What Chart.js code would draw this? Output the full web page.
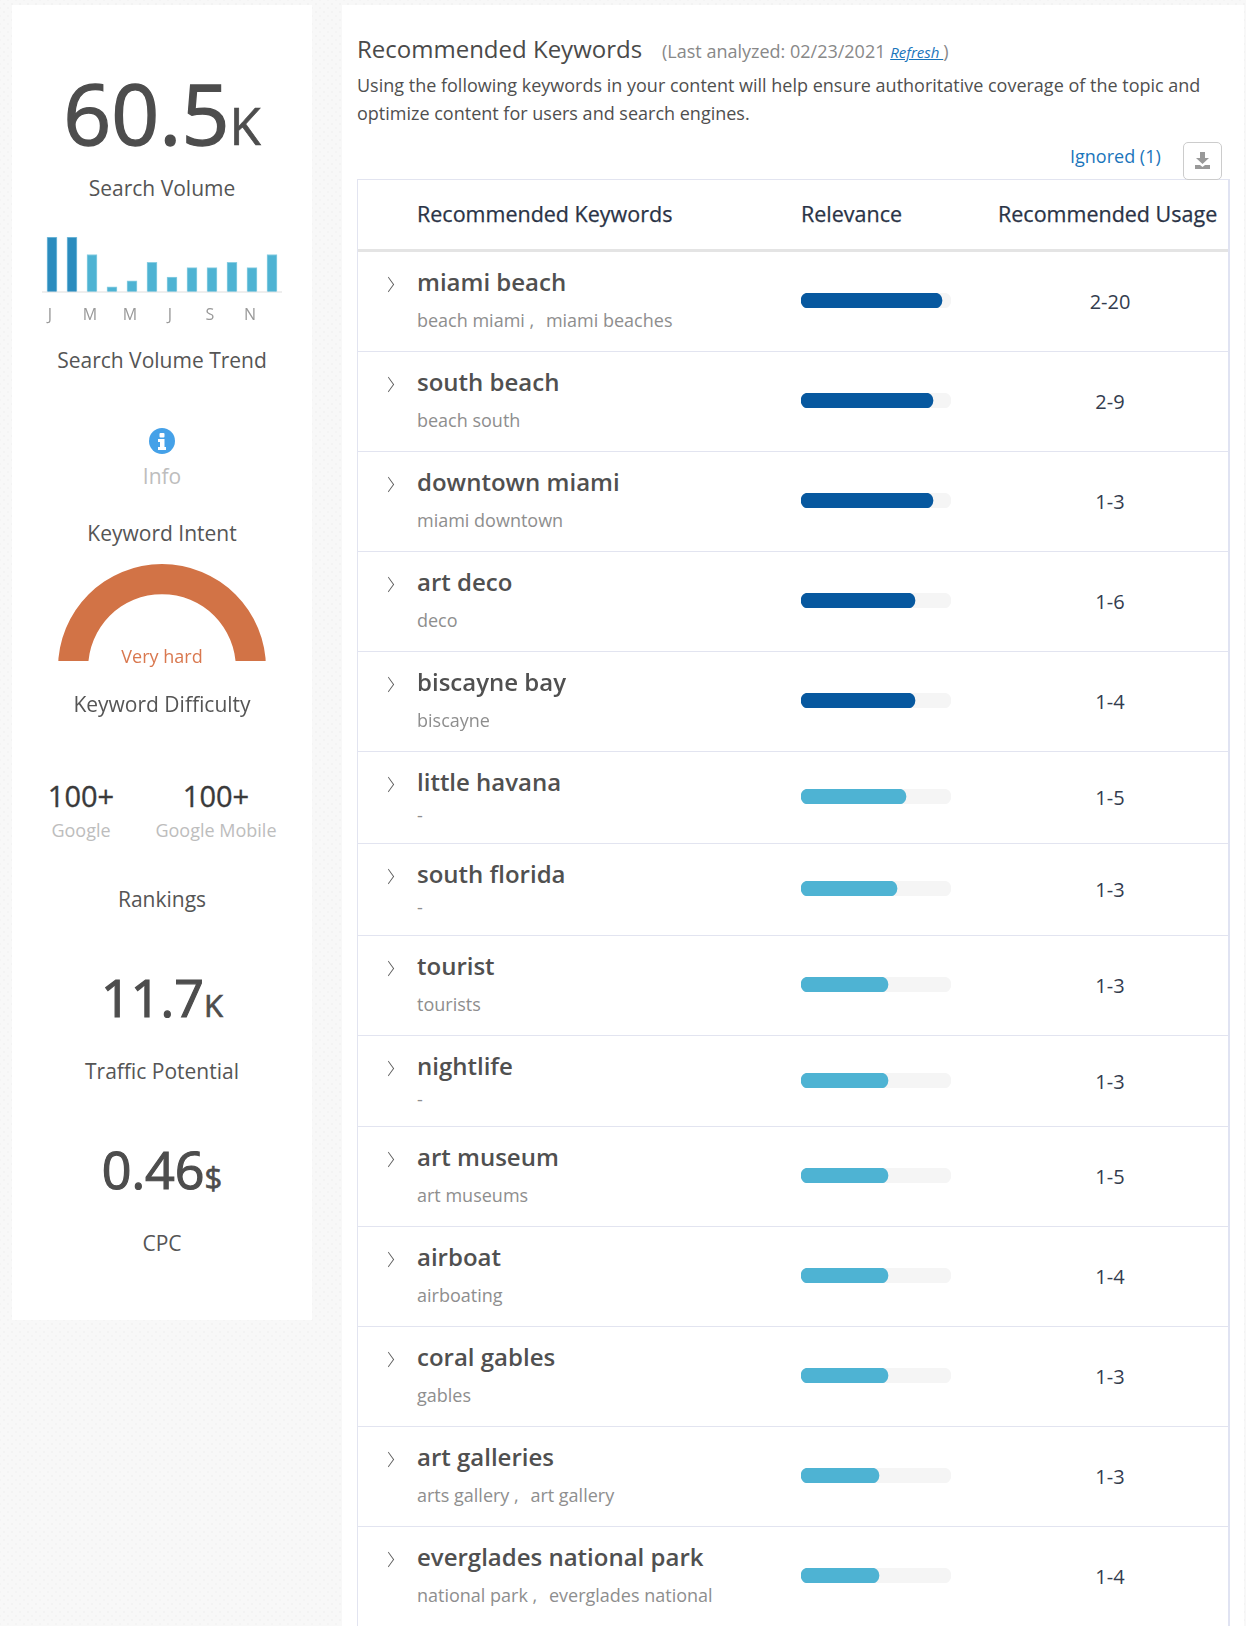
<!DOCTYPE html>
<html>
<head>
<meta charset="utf-8">
<title>Recommended Keywords</title>
<script src="https://cdn.jsdelivr.net/npm/chart.js@4/dist/chart.umd.min.js"></script>
<style>
  html, body { margin: 0; padding: 0; }
  body {
    width: 1246px; height: 1626px; overflow: hidden; position: relative;
    background-color: #f8f8f8;
    background-image: radial-gradient(#f3f3f3 1px, transparent 1.5px), radial-gradient(#f4f4f4 1px, transparent 1.5px);
    background-size: 8px 8px;
    background-position: 0 0, 4px 4px;
    font-family: "Open Sans", sans-serif; color: #4a4a4a;
  }
  .panel { position: absolute; background: #fff; }
  #side { left: 12px; top: 5px; width: 300px; height: 1315px; }
  #main { left: 342px; top: 5px; width: 902px; height: 1630px; }
  .abs { position: absolute; white-space: nowrap; line-height: 1; }
  .mid { left: 12px; width: 300px; text-align: center; }
  .cap { font-size: 21px; color: #555; }
  .big { color: #4d4d4d; -webkit-text-stroke: 1.4px #4d4d4d; }
  .big.small { -webkit-text-stroke: 1.2px #4d4d4d; }
  .big span { -webkit-text-stroke: .7px #4d4d4d; }
  .num { font-size: 29px; color: #3a3a3a; -webkit-text-stroke: .35px #3a3a3a; text-align: center; }
  .engine { font-size: 18px; color: #bdbdbd; text-align: center; }
  canvas { display: block; }

  #table {
    position: absolute; left: 357px; top: 179px; width: 870px; height: 1500px;
    border: 1px solid #e2e4f0; border-right: 2px solid #e0e3f2; border-bottom: 0; background: #fff;
  }
  #thead { height: 69px; border-bottom: 3px solid #e4e4e4; position: relative; }
  #thead span { position: absolute; top: 21px; font-size: 21.5px; color: #2a3346; -webkit-text-stroke: .25px #2a3346; line-height: 1.2; white-space: nowrap; }
  .row { position: relative; box-sizing: border-box; height: 100px; border-bottom: 1px solid #e2e4f0; }
  .row.short { height: 92px; }
  .row:nth-child(9) { height: 91px; }
  .chev { position: absolute; left: 25px; top: 27px; width: 10px; height: 10px; border-top: 1px solid #555; border-right: 1px solid #555; transform: scaleX(.72) rotate(45deg); }
  .kw { position: absolute; left: 59px; top: 13px; font-size: 24px; font-weight: 600; color: #505050; line-height: 1.4; white-space: nowrap; }
  .syn { position: absolute; left: 59px; top: 56px; font-size: 18px; color: #8e8e8e; line-height: 1.4; white-space: nowrap; }
  .syn i { display: inline-block; width: 7px; }
  .row.short .syn { top: 51px; }
  .bar { position: absolute; left: 443px; top: 41px; width: 150px; height: 15px; }
  .row.short .bar { top: 37px; }
  .use { position: absolute; left: 641px; width: 222px; top: 36px; text-align: center; font-size: 20px; color: #333c4e; line-height: 1.4; }
  .row.short .use { top: 32px; }
</style>
</head>
<body>
<div class="panel" id="side"></div>
<div class="panel" id="main"></div>

<!-- left column -->
<div class="abs mid big" style="top:71px;font-size:84px;">60.5<span style="font-size:51px;">K</span></div>
<div class="abs mid cap" style="top:178px;">Search Volume</div>
<div style="position:absolute;left:42px;top:237px;width:240px;height:94px;"><canvas id="trendChart" width="240" height="94"></canvas></div>
<div class="abs mid cap" style="top:350px;">Search Volume Trend</div>
<svg style="position:absolute;left:149px;top:428px;" width="26" height="26" viewBox="0 0 26 26">
  <circle cx="13" cy="13" r="13" fill="#45a1e8"/>
  <rect x="10.500" y="5" width="5" height="4.500" rx="1" fill="#fff"/>
  <path d="M9 11h6.500v8H17v3H9v-3h2v-5H9z" fill="#fff"/>
</svg>
<div class="abs mid" style="top:466px;font-size:21px;color:#bdbdbd;">Info</div>
<div class="abs mid cap" style="top:523px;">Keyword Intent</div>
<div style="position:absolute;left:58px;top:564px;width:208px;height:97px;overflow:hidden;"><canvas id="gaugeChart" width="208" height="104"></canvas></div>
<div class="abs mid" style="top:647px;font-size:18px;color:#d9784f;">Very hard</div>
<div class="abs mid cap" style="top:694px;">Keyword Difficulty</div>
<div class="abs num" style="left:31px;width:100px;top:781px;">100+</div>
<div class="abs num" style="left:146px;width:140px;top:781px;">100+</div>
<div class="abs engine" style="left:31px;width:100px;top:821px;">Google</div>
<div class="abs engine" style="left:146px;width:140px;top:821px;">Google Mobile</div>
<div class="abs mid cap" style="top:889px;">Rankings</div>
<div class="abs mid big small" style="top:971px;font-size:52px;left:12px;">11.7<span style="font-size:31px;">K</span></div>
<div class="abs mid cap" style="top:1061px;">Traffic Potential</div>
<div class="abs mid big small" style="top:1143px;font-size:52px;left:12px;">0.46<span style="font-size:31px;">$</span></div>
<div class="abs mid cap" style="top:1233px;">CPC</div>

<!-- right column -->
<div class="abs" style="left:357px;top:37px;font-size:24px;color:#4a4a4a;">Recommended Keywords</div>
<div class="abs" style="left:662px;top:42px;font-size:18px;color:#888;">(Last analyzed: 02/23/2021 <span style="font-size:15px;font-style:italic;color:#1a75bb;text-decoration:underline;">Refresh </span>)</div>
<div class="abs" style="left:357px;top:76px;font-size:18px;color:#4f4f4f;">Using the following keywords in your content will help ensure authoritative coverage of the topic and</div>
<div class="abs" style="left:357px;top:104px;font-size:18px;color:#4f4f4f;">optimize content for users and search engines.</div>
<div class="abs" style="left:1070px;top:147px;font-size:18px;color:#1a75bb;">Ignored (1)</div>
<div style="position:absolute;left:1183px;top:142px;width:37px;height:36px;border:1px solid #ccc;border-radius:5px;background:#fff;z-index:2;">
  <svg width="37" height="36" viewBox="0 0 37 36"><path d="M16 9h5v6h4l-6.500 6-6.500-6h4zM11 22h5l2.500 2 2.500-2h5v4H11z" fill="#999"/></svg>
</div>

<div id="table">
  <div id="thead">
    <span style="left:59px;">Recommended Keywords</span>
    <span style="left:443px;">Relevance</span>
    <span style="left:640px;">Recommended Usage</span>
  </div>
  <div id="rows"></div>
</div>

<script>
// sparkline: monthly search volume (relative to the peak)
const trendMonths = ['J', 'F', 'M', 'A', 'M', 'J', 'J', 'A', 'S', 'O', 'N', 'D'];
const trendValues = [100, 100, 68, 9, 20, 54, 27, 44, 44, 54, 44, 68];

// gauge: keyword difficulty
const difficultyLabels = ['Very hard'];
const difficultyValues = [100];

// table
const keywords = ['miami beach', 'south beach', 'downtown miami', 'art deco', 'biscayne bay', 'little havana',
  'south florida', 'tourist', 'nightlife', 'art museum', 'airboat', 'coral gables', 'art galleries', 'everglades national park'];
const variants = ['beach miami , miami beaches', 'beach south', 'miami downtown', 'deco', 'biscayne', '-',
  '-', 'tourists', '-', 'art museums', 'airboating', 'gables', 'arts gallery , art gallery', 'national park , everglades national'];
const relevance = [94, 88, 88, 76, 76, 70, 64, 58, 58, 58, 58, 58, 52, 52];
const usage = ['2-20', '2-9', '1-3', '1-6', '1-4', '1-5', '1-3', '1-3', '1-3', '1-5', '1-4', '1-3', '1-3', '1-4'];

const FONT = '"Open Sans", sans-serif';

new Chart(document.getElementById('trendChart'), {
  type: 'bar',
  data: {
    labels: trendMonths,
    datasets: [{
      data: trendValues,
      backgroundColor: ctx => ctx.raw >= 90 ? '#2b8cbe' : '#4eb3d3',
      borderColor: ctx => ctx.raw >= 90 ? '#7fc0de' : '#8ccfe3',
      borderWidth: 1,
      barThickness: 10
    }]
  },
  options: {
    responsive: false,
    animation: false,
    layout: { padding: 0 },
    plugins: { legend: { display: false }, tooltip: { enabled: false } },
    scales: {
      x: {
        grid: { display: false },
        border: { color: '#eeeeee', width: 2 },
        ticks: {
          color: '#999999',
          font: { family: FONT, size: 16 },
          padding: 6,
          labelOffset: -2,
          maxRotation: 0,
          autoSkip: false,
          callback(value, i) { return i % 2 === 0 ? trendMonths[i] : ''; }
        }
      },
      y: { display: false, min: 0, max: 100 }
    }
  }
});

new Chart(document.getElementById('gaugeChart'), {
  type: 'doughnut',
  data: {
    labels: difficultyLabels,
    datasets: [{ data: difficultyValues, backgroundColor: '#d27346', borderWidth: 0 }]
  },
  options: {
    responsive: false,
    animation: false,
    rotation: -90,
    circumference: 180,
    cutout: '71%',
    layout: { padding: 0 },
    plugins: { legend: { display: false }, tooltip: { enabled: false } }
  }
});

// one small horizontal bar per table row
function drawRelevance(canvas, label, value) {
  return new Chart(canvas, {
    type: 'bar',
    data: {
      labels: [label],
      datasets: [
        { data: [value], backgroundColor: value >= 75 ? '#07589f' : '#4eb3d3', order: 0 },
        { data: [100], backgroundColor: '#f5f5f5', order: 1 }
      ]
    },
    options: {
      responsive: false,
      animation: false,
      indexAxis: 'y',
      layout: { padding: 0 },
      datasets: { bar: { grouped: false, barPercentage: 1, categoryPercentage: 1, borderRadius: 7.5, borderSkipped: false } },
      plugins: { legend: { display: false }, tooltip: { enabled: false } },
      scales: {
        x: { display: false, min: 0, max: 100 },
        y: { display: false }
      }
    }
  });
}

const rowsEl = document.getElementById('rows');
keywords.forEach((kw, i) => {
  const row = document.createElement('div');
  row.className = 'row' + (variants[i] === '-' ? ' short' : '');
  const syn = variants[i].replace(' , ', ' ,<i></i> ');
  row.innerHTML = `<div class="chev"></div><div class="kw">${kw}</div><div class="syn">${syn}</div>` +
    `<div class="bar"><canvas width="150" height="15"></canvas></div><div class="use">${usage[i]}</div>`;
  rowsEl.appendChild(row);
  drawRelevance(row.querySelector('canvas'), kw, relevance[i]);
});
</script>
</body>
</html>
